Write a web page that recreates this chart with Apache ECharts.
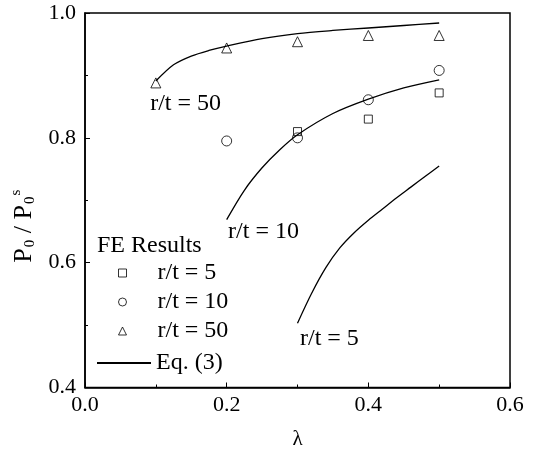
<!DOCTYPE html>
<html>
<head>
<meta charset="utf-8">
<script src="https://cdn.jsdelivr.net/npm/echarts@6/dist/echarts.min.js"></script>
<style>
  html, body { margin: 0; padding: 0; background: #fff; }
  #chart { width: 534px; height: 456px; }
</style>
</head>
<body>
<div id="chart"></div>
<script>
// FE results (lambda, P0/P0s)
const feRt5X  = [0.3, 0.4, 0.5];
const feRt5Y  = [0.810, 0.830, 0.872];
const feRt10X = [0.2, 0.3, 0.4, 0.5];
const feRt10Y = [0.795, 0.800, 0.861, 0.908];
const feRt50X = [0.1, 0.2, 0.3, 0.4, 0.5];
const feRt50Y = [0.888, 0.944, 0.954, 0.964, 0.964];

// Eq. (3) curves
const eqRt50X = [0.1, 0.125, 0.15, 0.175, 0.2, 0.25, 0.3, 0.35, 0.4, 0.45, 0.5];
const eqRt50Y = [0.891, 0.917, 0.931, 0.940, 0.947, 0.959, 0.967, 0.972, 0.976, 0.980, 0.984];
const eqRt10X = [0.2, 0.225, 0.25, 0.275, 0.3, 0.35, 0.4, 0.45, 0.5];
const eqRt10Y = [0.669, 0.716, 0.752, 0.781, 0.805, 0.839, 0.862, 0.880, 0.893];
const eqRt5X  = [0.3, 0.32, 0.34, 0.36, 0.38, 0.40, 0.42, 0.44, 0.46, 0.48, 0.5];
const eqRt5Y  = [0.503, 0.551, 0.592, 0.624, 0.648, 0.668, 0.686, 0.704, 0.721, 0.738, 0.755];

// curve captions and where they sit (data coordinates of the caption's left-middle)
const captionText = ['r/t = 50', 'r/t = 10', 'r/t = 5'];
const captionAt = [[0.092, 0.854], [0.202, 0.650], [0.3035, 0.4785]];

const feNames = ['r/t = 5', 'r/t = 10', 'r/t = 50'];
const eqName = 'Eq. (3)';

const xTicks = { min: 0, max: 0.6, step: 0.2 };
const yTicks = { min: 0.4, max: 1.0, step: 0.2 };

const FONT = 'Liberation Serif';
const zip = (xs, ys) => xs.map((x, i) => [x, ys[i]]);

const chart = echarts.init(document.getElementById('chart'), null, { renderer: 'canvas' });

const markerStyle = { color: 'rgba(0,0,0,0)', borderColor: '#000', borderWidth: 1 };

function eqSeries(xs, ys, capIdx) {
  return {
    name: eqName,
    type: 'line',
    data: zip(xs, ys),
    smooth: 0.3,
    symbol: 'none',
    showSymbol: false,
    lineStyle: { color: '#000', width: 1.3 },
    itemStyle: { color: '#000' },
    z: 2,
    silent: true,
    markPoint: {
      symbol: 'circle',
      symbolSize: 0,
      silent: true,
      animation: false,
      label: {
        show: true,
        position: 'right',
        distance: 0,
        formatter: captionText[capIdx],
        fontFamily: FONT,
        fontSize: 24,
        color: '#000'
      },
      data: [{ coord: captionAt[capIdx] }]
    }
  };
}

function feSeries(name, symbol, size, xs, ys) {
  return {
    name: name,
    type: 'scatter',
    symbol: symbol,
    symbolSize: size,
    data: zip(xs, ys),
    itemStyle: markerStyle,
    z: 3,
    silent: true
  };
}

const legendText = { fontFamily: FONT, fontSize: 24, color: '#000', lineHeight: 24 };

chart.setOption({
  animation: false,
  backgroundColor: '#fff',
  textStyle: { fontFamily: FONT, color: '#000' },
  grid: {
    left: 85, top: 13, right: 24, bottom: 68.5,
    show: true, borderColor: '#000', borderWidth: 1.5, backgroundColor: 'transparent'
  },
  title: {
    text: 'FE Results',
    left: 92, top: 229,
    textStyle: { fontFamily: FONT, fontSize: 24, fontWeight: 'normal', color: '#000' }
  },
  legend: [
    {
      // FE marker entries
      orient: 'vertical',
      left: 113, top: 256,
      itemWidth: 8, itemHeight: 8, itemGap: 5,
      itemStyle: { borderWidth: 1 },
      textStyle: Object.assign({ padding: [0, 0, 0, 26] }, legendText),
      data: feNames,
      selectedMode: false
    },
    {
      // Eq. (3) line entry
      orient: 'vertical',
      left: 91, top: 346,
      itemWidth: 54, itemHeight: 8,
      textStyle: legendText,
      data: [{ name: eqName, itemStyle: { color: 'rgba(0,0,0,0)', borderWidth: 0, opacity: 0 } }],
      selectedMode: false
    }
  ],
  xAxis: {
    type: 'value',
    min: xTicks.min, max: xTicks.max, interval: xTicks.step,
    name: 'λ',
    nameLocation: 'middle',
    nameGap: 41,
    nameTextStyle: { fontFamily: FONT, fontSize: 21, color: '#000' },
    axisLine: { show: true, lineStyle: { color: '#000', width: 1.5 } },
    axisTick: { show: true, inside: true, length: 5, lineStyle: { color: '#000', width: 1 } },
    minorTick: { show: true, splitNumber: 2, length: 3, lineStyle: { color: '#000', width: 1 } },
    splitLine: { show: false },
    axisLabel: {
      margin: 7, fontFamily: FONT, fontSize: 22, color: '#000',
      formatter: v => v.toFixed(1)
    }
  },
  yAxis: {
    type: 'value',
    min: yTicks.min, max: yTicks.max, interval: yTicks.step,
    name: '{p|P}{sub|0}{p| / P}{sub|0}{sup|s}',
    nameLocation: 'middle',
    nameGap: 44,
    nameRotate: 90,
    nameTextStyle: {
      fontFamily: FONT, color: '#000',
      padding: [0, 52, 0, 0],
      rich: {
        p: { fontFamily: FONT, fontSize: 26, color: '#000' },
        sub: { fontFamily: FONT, fontSize: 15, color: '#000', padding: [12, 0, 0, 1] },
        sup: { fontFamily: FONT, fontSize: 15, color: '#000', padding: [0, 0, 16, 1] }
      }
    },
    axisLine: { show: true, lineStyle: { color: '#000', width: 1.5 } },
    axisTick: { show: true, inside: true, length: 5, lineStyle: { color: '#000', width: 1 } },
    minorTick: { show: true, splitNumber: 2, length: 3, lineStyle: { color: '#000', width: 1 } },
    splitLine: { show: false },
    axisLabel: {
      margin: 9, fontFamily: FONT, fontSize: 22, color: '#000',
      formatter: v => v.toFixed(1)
    }
  },
  series: [
    eqSeries(eqRt50X, eqRt50Y, 0),
    eqSeries(eqRt10X, eqRt10Y, 1),
    eqSeries(eqRt5X, eqRt5Y, 2),
    feSeries(feNames[0], 'rect', 8, feRt5X, feRt5Y),
    feSeries(feNames[1], 'circle', 10, feRt10X, feRt10Y),
    feSeries(feNames[2], 'triangle', 10, feRt50X, feRt50Y)
  ]
});
</script>
</body>
</html>
